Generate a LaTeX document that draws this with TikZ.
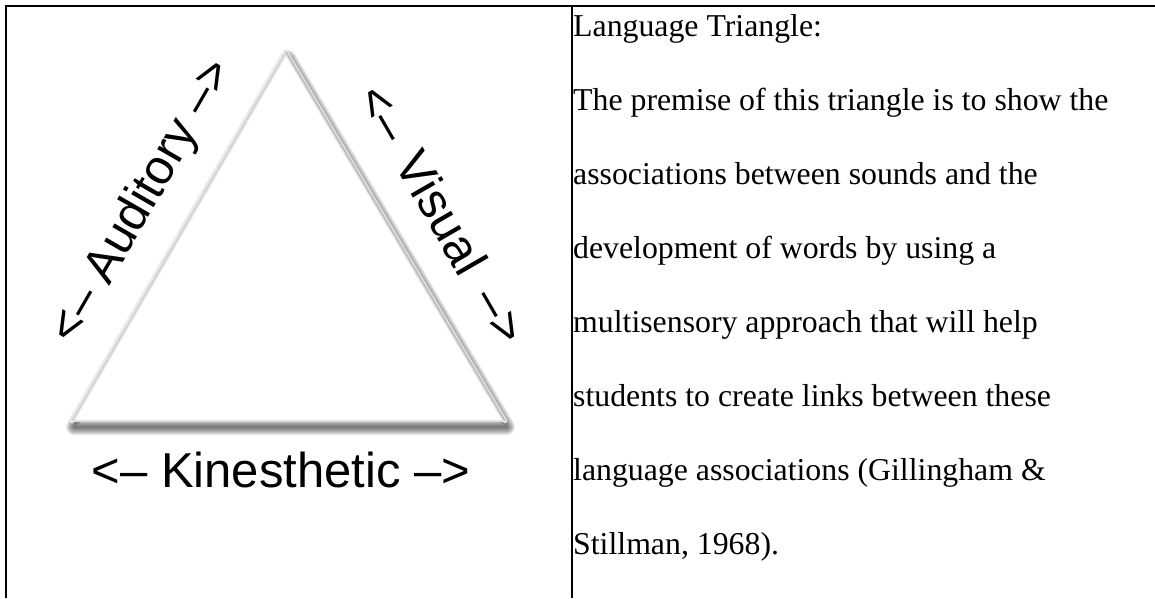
\documentclass[tikz,border=0pt]{standalone}
\usepackage{fontspec}
\setmainfont{Liberation Serif}
\newfontfamily\arialf{Liberation Sans}
\begin{document}
\begin{tikzpicture}[x=1pt,y=-1pt,
  body/.style={font=\fontsize{31.8}{38}\selectfont, anchor=base west, inner sep=0pt},
  lab/.style={font=\arialf\fontsize{49}{58}\selectfont, inner sep=0pt},
  rule/.style={line width=2pt, black},
  shadowstroke/.style={line width=#1pt, black, opacity=0.085, line join=round}]
\useasboundingbox (0,0) rectangle (1155,598);
% table rules
\coordinate (cbl) at (6,598);
\coordinate (ctl) at (6,6);
\coordinate (ctr) at (1155,6);
\coordinate (dtop) at (572,6);
\coordinate (dbot) at (572,598);
\draw[rule, line join=miter] (cbl) -- (ctl) -- (ctr);
\draw[rule] (dtop) -- (dbot);
% triangle shadow (blurred by stacked strokes)
\foreach \w in {16,14,...,2}
  \draw[shadowstroke=\w, shift={(2,6)}] (286,52) -- (72,421) -- (505,421) -- cycle;
% triangle body
\coordinate (apex) at (286,52);
\coordinate (bleft) at (72,421);
\coordinate (bright) at (505,421);
\fill[white] (apex) -- (bleft) -- (bright) -- cycle;
\draw[gray!15, line width=4.5pt, line cap=round] (bleft) -- (apex);
\draw[gray!35, line width=1.8pt] (bleft) -- (apex);
\draw[gray!20, line width=4.5pt, line cap=round] (apex) -- (bright);
\draw[gray!50, line width=1.8pt] (apex) -- (bright);
\draw[gray!25, line width=1.5pt] (bleft) -- (bright);
% labels
\node[lab, anchor=base] (kin) at (281,487) {<– Kinesthetic –>};
\node[lab, rotate=60] (aud) at (143,202) {<– Auditory –>};
\node[lab, rotate=-60] (vis) at (443,214) {<–\hspace{0.42em}Visual\hspace{0.5em}–>};
% right cell text
\node[body] (t1) at (573,36) {Language Triangle:};
\node[body] (t2) at (573,110) {The premise of this triangle is to show the};
\node[body] (t3) at (573,184) {associations between sounds and the};
\node[body] (t4) at (573,258) {development of words by using a};
\node[body] (t5) at (573,332) {multisensory approach that will help};
\node[body] (t6) at (573,406) {students to create links between these};
\node[body] (t7) at (573,480) {language associations (Gillingham \&};
\node[body] (t8) at (573,554) {Stillman, 1968).};
\end{tikzpicture}
\end{document}
